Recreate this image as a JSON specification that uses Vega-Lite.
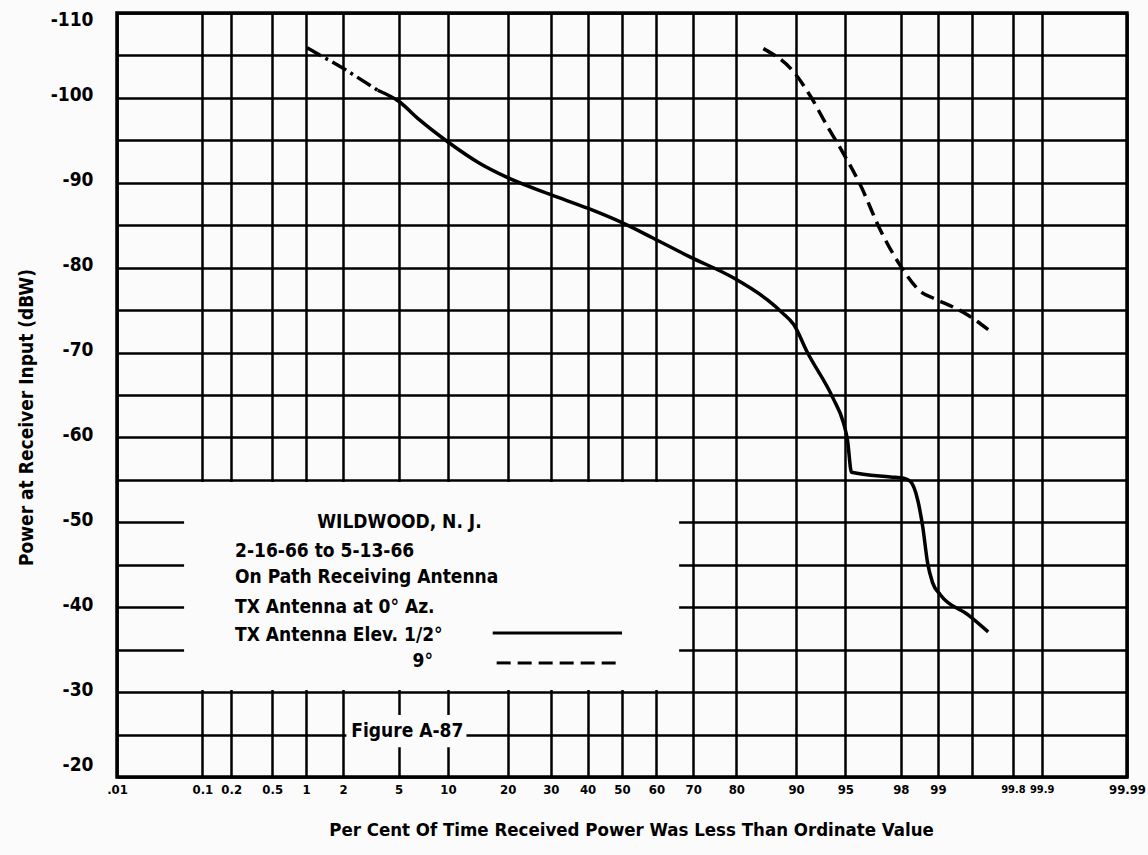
{
  "$schema": "https://vega.github.io/schema/vega-lite/v6.json",
  "width": 1010,
  "height": 764,
  "autosize": {"type": "none"},
  "padding": {"left": 117, "top": 13, "right": 21, "bottom": 78},
  "background": "#fbfbfb",
  "config": {
    "font": "'DejaVu Sans Condensed', 'Liberation Sans', sans-serif",
    "view": {"stroke": "#000", "strokeWidth": 3.5},
    "axis": {
      "domain": false, "grid": true, "gridColor": "#000", "gridOpacity": 1, "gridWidth": 2.5,
      "ticks": false, "labelColor": "#000", "titleColor": "#000",
      "labelFontWeight": "bold", "titleFontWeight": "bold",
      "labelFont": "'DejaVu Sans Condensed', 'Liberation Sans', sans-serif",
      "titleFont": "'DejaVu Sans Condensed', 'Liberation Sans', sans-serif"
    }
  },
  "data": {
    "values": [
      {"kind": "curve", "series": "e", "pct": 1.02, "dbw": -105.9},
      {"kind": "curve", "series": "e", "pct": 2.0, "dbw": -103.5},
      {"kind": "curve", "series": "e", "pct": 3.6, "dbw": -100.9},
      {"kind": "curve", "series": "s", "pct": 3.6, "dbw": -100.9},
      {"kind": "curve", "series": "s", "pct": 5, "dbw": -99.6},
      {"kind": "curve", "series": "s", "pct": 6.8, "dbw": -97.4},
      {"kind": "curve", "series": "s", "pct": 10, "dbw": -94.8},
      {"kind": "curve", "series": "s", "pct": 14.7, "dbw": -92.3},
      {"kind": "curve", "series": "s", "pct": 20, "dbw": -90.6},
      {"kind": "curve", "series": "s", "pct": 30, "dbw": -88.6},
      {"kind": "curve", "series": "s", "pct": 40, "dbw": -87.0},
      {"kind": "curve", "series": "s", "pct": 50, "dbw": -85.3},
      {"kind": "curve", "series": "s", "pct": 59, "dbw": -83.5},
      {"kind": "curve", "series": "s", "pct": 69, "dbw": -81.3},
      {"kind": "curve", "series": "s", "pct": 79.4, "dbw": -78.8},
      {"kind": "curve", "series": "s", "pct": 85.8, "dbw": -76.2},
      {"kind": "curve", "series": "s", "pct": 88.1, "dbw": -74.7},
      {"kind": "curve", "series": "s", "pct": 89.7, "dbw": -73.3},
      {"kind": "curve", "series": "s", "pct": 91.4, "dbw": -70.0},
      {"kind": "curve", "series": "s", "pct": 94.0, "dbw": -64.6},
      {"kind": "curve", "series": "s", "pct": 94.86, "dbw": -61.7},
      {"kind": "curve", "series": "s", "pct": 95.16, "dbw": -59.7},
      {"kind": "curve", "series": "s", "pct": 95.45, "dbw": -55.9},
      {"kind": "curve", "series": "s", "pct": 97.6, "dbw": -55.35},
      {"kind": "curve", "series": "s", "pct": 98.1, "dbw": -55.2},
      {"kind": "curve", "series": "s", "pct": 98.32, "dbw": -54.8},
      {"kind": "curve", "series": "s", "pct": 98.53, "dbw": -52.6},
      {"kind": "curve", "series": "s", "pct": 98.66, "dbw": -49.5},
      {"kind": "curve", "series": "s", "pct": 98.78, "dbw": -45.2},
      {"kind": "curve", "series": "s", "pct": 98.89, "dbw": -42.9},
      {"kind": "curve", "series": "s", "pct": 99.05, "dbw": -41.45},
      {"kind": "curve", "series": "s", "pct": 99.46, "dbw": -39.1},
      {"kind": "curve", "series": "s", "pct": 99.65, "dbw": -37.1},
      {"kind": "curve", "series": "d", "pct": 85.1, "dbw": -105.8},
      {"kind": "curve", "series": "d", "pct": 89.7, "dbw": -103.05},
      {"kind": "curve", "series": "d", "pct": 91.8, "dbw": -100.1},
      {"kind": "curve", "series": "d", "pct": 93.5, "dbw": -96.6},
      {"kind": "curve", "series": "d", "pct": 94.6, "dbw": -94.1},
      {"kind": "curve", "series": "d", "pct": 96.05, "dbw": -89.7},
      {"kind": "curve", "series": "d", "pct": 97.15, "dbw": -84.4},
      {"kind": "curve", "series": "d", "pct": 97.92, "dbw": -80.55},
      {"kind": "curve", "series": "d", "pct": 98.66, "dbw": -77.0},
      {"kind": "curve", "series": "d", "pct": 98.91, "dbw": -76.4},
      {"kind": "curve", "series": "d", "pct": 99.46, "dbw": -74.4},
      {"kind": "curve", "series": "d", "pct": 99.65, "dbw": -72.7},
      {"kind": "mask", "pct": 0.063, "pct2": 66.3, "dbw": -54.75, "dbw2": -30.25},
      {"kind": "mask", "pct": 2.12, "pct2": 12.6, "dbw": -27.3, "dbw2": -23.5},
      {"kind": "key", "series": "s", "pct": 17.05, "pct2": 50, "dbw": -36.97},
      {"kind": "key", "series": "d", "pct": 17.8, "pct2": 50, "dbw": -33.44},
      {"kind": "label", "text": "WILDWOOD, N. J.", "pct": 1.24, "dbw": -49.34},
      {"kind": "label", "text": "2-16-66 to 5-13-66", "pct": 0.219, "dbw": -45.93},
      {"kind": "label", "text": "On Path Receiving Antenna", "pct": 0.219, "dbw": -42.86},
      {"kind": "label", "text": "TX Antenna at 0° Az.", "pct": 0.219, "dbw": -39.33},
      {"kind": "label", "text": "TX Antenna Elev. 1/2°", "pct": 0.219, "dbw": -36.03},
      {"kind": "label", "text": "9°", "pct": 6.15, "dbw": -33.0},
      {"kind": "label", "text": "Figure A-87", "pct": 2.31, "dbw": -24.72}
    ]
  },
  "transform": [
    {"calculate": "quantileNormal(datum.pct / 100)", "as": "z"},
    {"calculate": "isValid(datum.pct2) ? quantileNormal(datum.pct2 / 100) : null", "as": "z2"}
  ],
  "encoding": {
    "x": {
      "field": "z", "type": "quantitative",
      "scale": {"domain": [-3.719, 3.719], "nice": false, "zero": false},
      "axis": {
        "values": [-3.719, -3.0902, -2.8782, -2.5758, -2.3263, -2.0537, -1.6449, -1.28155, -0.8416, -0.5244, -0.2533, 0, 0.2533, 0.5244, 0.8416, 1.28155, 1.6449, 2.0537, 2.3263, 2.5758, 2.8782, 3.0902, 3.719],
        "labelExpr": "datum.value < -3.5 ? '.01' : (abs(datum.value - 2.5758) < 0.01 ? '' : format(cumulativeNormal(datum.value) * 100, '.2~f'))",
        "labelFontSize": {"condition": {"test": "datum.value > 2.8 && datum.value < 3.2", "value": 11}, "value": 13},
        "labelPadding": 6, "labelOverlap": false, "labelBound": false, "labelFlush": false,
        "title": "Per Cent Of Time Received Power Was Less Than Ordinate Value",
        "titleFontSize": 18.5, "titlePadding": 24, "titleX": 514
      }
    },
    "y": {
      "field": "dbw", "type": "quantitative",
      "scale": {"domain": [-110, -20], "reverse": true, "nice": false, "zero": false},
      "axis": {
        "values": [-110, -105, -100, -95, -90, -85, -80, -75, -70, -65, -60, -55, -50, -45, -40, -35, -30, -25, -20],
        "labelExpr": "datum.value % 10 == 0 ? '-' + abs(datum.value) : ''",
        "labelFontSize": 19, "labelPadding": 24, "labelOffset": -3, "labelOverlap": false, "labelBound": false, "labelFlush": true,
        "title": "Power at Receiver Input (dBW)",
        "titleFontSize": 19, "titleX": -91, "titleY": 404, "titleBaseline": "middle", "titleAlign": "center", "titleAngle": -90
      }
    }
  },
  "layer": [
    {
      "transform": [{"filter": "datum.kind == 'mask'"}],
      "mark": {"type": "rect", "fill": "#fbfbfb", "stroke": null},
      "encoding": {"x2": {"field": "z2"}, "y2": {"field": "dbw2"}}
    },
    {
      "transform": [{"filter": "datum.kind == 'curve' && datum.series == 's'"}],
      "mark": {"type": "line", "color": "#000", "strokeWidth": 3.5, "strokeJoin": "round", "interpolate": "monotone"},
      "encoding": {"order": {"field": "pct", "type": "quantitative"}}
    },
    {
      "transform": [{"filter": "datum.kind == 'curve' && datum.series == 'e'"}],
      "mark": {"type": "line", "color": "#000", "strokeWidth": 3.5, "strokeDash": [16, 5, 3, 5]},
      "encoding": {"order": {"field": "pct", "type": "quantitative"}}
    },
    {
      "transform": [{"filter": "datum.kind == 'curve' && datum.series == 'd'"}],
      "mark": {"type": "line", "color": "#000", "strokeWidth": 3.5, "strokeDash": [14, 7], "interpolate": "monotone"},
      "encoding": {"order": {"field": "pct", "type": "quantitative"}}
    },
    {
      "transform": [{"filter": "datum.kind == 'key' && datum.series == 's'"}],
      "mark": {"type": "rule", "color": "#000", "strokeWidth": 3},
      "encoding": {"x2": {"field": "z2"}}
    },
    {
      "transform": [{"filter": "datum.kind == 'key' && datum.series == 'd'"}],
      "mark": {"type": "rule", "color": "#000", "strokeWidth": 3, "strokeDash": [14, 7]},
      "encoding": {"x2": {"field": "z2"}}
    },
    {
      "transform": [{"filter": "datum.kind == 'label'"}],
      "mark": {"type": "text", "align": "left", "baseline": "alphabetic", "fontSize": 19, "fontWeight": "bold", "color": "#000"},
      "encoding": {"text": {"field": "text"}}
    }
  ]
}
